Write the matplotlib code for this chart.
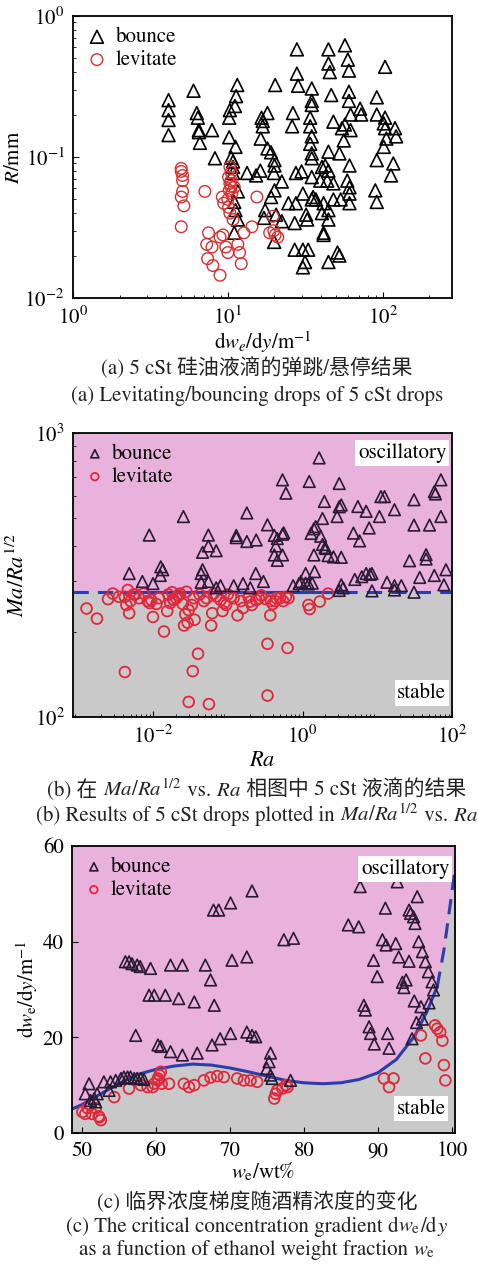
import matplotlib
matplotlib.use("Agg")
import matplotlib.pyplot as plt
from matplotlib.ticker import LogLocator, NullFormatter
from matplotlib.offsetbox import TextArea, HPacker, AnchoredOffsetbox
import numpy as np

plt.rcParams['font.family'] = ['STIXGeneral', 'Noto Sans CJK SC']
plt.rcParams['mathtext.fontset'] = 'stix'

# ---- (a) 5 cSt drops: R vs dwe/dy ----
a_bounce_x = [4.14, 4.14, 4.14, 4.14, 6.0, 6.3, 6.4, 6.5, 6.5, 6.6, 7.9, 8.25,
              11.5, 11.3, 11.1, 10.3, 10.2, 10.2, 11.2, 10.5, 10.8, 10.8, 10.8, 11.6,
              11.0, 11.2, 11.6, 11.0, 13.3, 15.2, 16.2, 20.2, 16.5, 16.8, 18.0, 16.8,
              16.3, 18.0, 19.0, 20.0, 20.0, 19.8, 22.3, 20.0, 19.0, 17.4, 17.1, 20.5,
              22.3, 19.9, 26.3, 26.0, 27.9, 27.9, 28.4, 27.5, 29.9, 30.5, 24.6, 27.5,
              27.0, 27.0, 30.5, 33.0, 31.5, 30.5, 32.0, 32.5, 34.8, 34.8, 34.8, 34.0,
              34.0, 34.8, 34.0, 34.8, 34.8, 34.8, 35.5, 34.8, 37.0, 44.6, 44.6, 45.5,
              46.5, 43.8, 40.5, 39.5, 41.5, 40.5, 41.5, 41.5, 44.6, 51.0, 52.5, 48.0,
              44.6, 42.5, 44.6, 48.0, 48.0, 44.6, 44.6, 52.5, 57.0, 59.5, 60.5, 60.5,
              60.5, 57.0, 54.5, 62.0, 61.0, 59.0, 61.0, 61.0, 61.0, 56.0, 53.5, 71.4,
              72.5, 62.0, 91.5, 91.5, 91.5, 89.5, 91.5, 103.5, 103.5, 101.5, 103.5, 105.5,
              101.5, 120.0, 122.0, 117.0, 113.0]
a_bounce_y = [0.253, 0.215, 0.183, 0.143, 0.295, 0.205, 0.19, 0.155, 0.15, 0.126, 0.155, 0.098,
              0.324, 0.27, 0.23, 0.215, 0.19, 0.138, 0.118, 0.099, 0.093, 0.085, 0.077, 0.057,
              0.048, 0.042, 0.036, 0.029, 0.077, 0.074, 0.08, 0.324, 0.19, 0.18, 0.205, 0.165,
              0.135, 0.115, 0.108, 0.095, 0.087, 0.077, 0.067, 0.058, 0.052, 0.042, 0.037, 0.039,
              0.035, 0.025, 0.205, 0.165, 0.58, 0.39, 0.32, 0.077, 0.079, 0.055, 0.047, 0.047,
              0.034, 0.022, 0.022, 0.022, 0.018, 0.0165, 0.039, 0.036, 0.306, 0.25, 0.234, 0.19,
              0.165, 0.14, 0.124, 0.106, 0.098, 0.072, 0.052, 0.05, 0.05, 0.58, 0.46, 0.40,
              0.275, 0.068, 0.085, 0.068, 0.047, 0.040, 0.029, 0.028, 0.018, 0.021, 0.020, 0.178,
              0.109, 0.087, 0.08, 0.065, 0.050, 0.042, 0.036, 0.106, 0.62, 0.49, 0.41, 0.29,
              0.25, 0.17, 0.16, 0.155, 0.087, 0.068, 0.061, 0.055, 0.047, 0.131, 0.05, 0.22,
              0.2, 0.2, 0.265, 0.2, 0.095, 0.058, 0.048, 0.436, 0.19, 0.173, 0.16, 0.135,
              0.118, 0.16, 0.14, 0.09, 0.074]
a_lev_x = [5.0, 5.0, 5.1, 5.1, 5.1, 5.0, 5.2, 5.0, 7.1, 7.5, 7.3, 7.4, 7.9, 8.0, 8.9,
           8.9, 9.3, 9.2, 9.4, 9.7, 10.0, 10.3, 10.1, 10.3, 10.2, 10.0, 10.1, 10.3, 10.8,
           11.6, 11.9, 12.2, 12.7, 14.3, 15.4, 18.6, 19.8, 20.2, 21.0, 19.5, 10.5, 11.0,
           10.5, 10.4, 10.6]
a_lev_y = [0.083, 0.079, 0.074, 0.068, 0.057, 0.052, 0.045, 0.032, 0.057, 0.029, 0.024,
           0.019, 0.023, 0.017, 0.0145, 0.027, 0.028, 0.052, 0.047, 0.023, 0.021, 0.085,
           0.072, 0.065, 0.058, 0.050, 0.044, 0.040, 0.036, 0.024, 0.021, 0.0175, 0.029,
           0.032, 0.052, 0.029, 0.030, 0.028, 0.027, 0.038, 0.068, 0.061, 0.078, 0.062, 0.055]

# ---- (b) Ma/Ra^0.5 vs Ra ----
b_bounce_ra = [0.0048, 0.0072, 0.0089, 0.0127, 0.0135, 0.0255, 0.010, 0.0125, 0.044, 0.046,
               0.055, 0.055, 0.046, 0.07, 0.055, 0.044, 0.18, 0.13, 0.13, 0.18, 0.24, 0.237,
               0.34, 0.54, 0.60, 0.42, 0.46, 0.54, 0.56, 0.44, 0.42, 0.46, 0.54, 1.23, 1.67,
               1.50, 1.42, 1.30, 1.75, 1.85, 2.0, 2.05, 1.42, 2.2, 1.1, 1.45, 1.1, 1.35, 1.2,
               0.95, 1.96, 1.85, 3.1, 3.3, 3.1, 2.9, 2.6, 3.3, 3.3, 3.1, 3.5, 5.5, 7.1, 4.8,
               5.8, 7.8, 11.2, 12.5, 10.7, 17.0, 31.0, 31.0, 50.0, 71.0, 58.0, 60.0, 71.0, 83.0,
               78.0, 45.0, 45.0, 27.0, 37.0, 58.0, 21.0, 17.0, 13.5, 8.5, 6.2, 7.1, 8.0, 5.0,
               31.0, 17.0, 8.5, 0.07, 0.08, 0.16, 0.2, 0.3, 0.12, 0.75, 0.9]
b_bounce_v = [320, 300, 437, 338, 330, 508, 295, 315, 320, 330, 437, 400, 380, 385, 300, 298,
              523, 436, 428, 415, 420, 320, 475, 684, 614, 436, 425, 440, 445, 400, 372, 356,
              372, 675, 817, 468, 460, 443, 433, 405, 395, 392, 372, 370, 320, 325, 296, 296,
              294, 300, 574, 500, 664, 558, 550, 508, 366, 365, 292, 279, 285, 551, 530, 444,
              417, 463, 597, 597, 508, 537, 582, 474, 474, 684, 622, 610, 508, 330, 292, 373,
              360, 355, 310, 315, 290, 290, 298, 320, 312, 320, 318, 305, 275, 280, 278, 285,
              290, 295, 285, 300, 290, 290, 295]
b_lev_ra = [0.00129, 0.00178, 0.0025, 0.0029, 0.0042, 0.0044, 0.0048, 0.0042, 0.0046, 0.0050,
            0.0055, 0.010, 0.0095, 0.0111, 0.014, 0.0155, 0.0185, 0.0205, 0.025, 0.027, 0.029,
            0.030, 0.026, 0.040, 0.034, 0.030, 0.056, 0.060, 0.062, 0.036, 0.085, 0.135, 0.095,
            0.34, 0.63, 0.34, 0.37, 0.43, 0.50, 0.21, 0.16, 1.25, 1.7, 2.2, 1.2, 0.0065, 0.0075,
            0.0085, 0.012, 0.016, 0.019, 0.022, 0.035, 0.042, 0.048, 0.07, 0.08, 0.1, 0.12,
            0.15, 0.19, 0.24, 0.28, 0.32, 0.38, 0.45, 0.55, 0.65, 0.0035, 0.0058, 0.009, 0.017,
            0.023, 0.033, 0.052, 0.065, 0.09, 0.11, 0.2, 0.26, 0.4, 0.6, 0.028, 0.018]
b_lev_v = [241, 222, 260, 272, 144, 248, 232, 265, 280, 256, 270, 225, 258, 250, 200, 236,
           260, 262, 250, 230, 215, 238, 210, 167, 145, 113, 111, 210, 232, 220, 236, 228, 248,
           181, 175, 119, 228, 256, 262, 248, 242, 240, 255, 272, 248, 262, 272, 256, 262, 270,
           258, 268, 262, 270, 256, 266, 258, 270, 262, 256, 264, 258, 268, 260, 256, 262, 256,
           262, 265, 270, 252, 252, 272, 248, 262, 272, 252, 265, 255, 262, 250, 265, 276, 275]

ra_crit = 275

# ---- (c) critical gradient vs ethanol fraction ----
c_bounce_w = [50.5, 51.0, 51.2, 51.7, 51.9, 52.1, 53.0, 53.7, 53.9, 54.6, 55.3, 55.7, 56.2,
              56.6, 57.1, 57.5, 58.0, 58.4, 55.9, 56.4, 56.8, 57.5, 57.9, 59.3, 57.3, 59.1,
              59.8, 61.3, 63.1, 65.2, 62.0, 63.6, 60.3, 60.7, 62.0, 63.6, 65.6, 66.7, 67.4,
              67.9, 67.6, 68.7, 70.1, 67.8, 68.5, 70.1, 73.0, 70.3, 72.3, 72.3, 73.0, 73.5,
              75.5, 75.3, 75.0, 75.5, 75.7, 77.3, 78.6, 78.2, 86.0, 87.4, 87.6, 88.1, 88.3,
              88.8, 89.0, 89.5, 91.3, 91.5, 89.4, 89.9, 90.6, 91.1, 91.0, 92.6, 92.4, 92.8,
              93.3, 93.5, 94.2, 93.8, 95.3, 94.2, 94.4, 94.8, 95.0, 95.5, 96.0, 96.4, 96.8,
              97.3, 97.5, 94.9, 95.2, 95.8, 96.0, 96.9, 94.6]
c_bounce_y = [8.2, 10.3, 6.8, 7.2, 6.5, 8.2, 10.7, 8.9, 10.7, 11.0, 11.4, 11.7, 11.7, 11.7,
              11.4, 11.4, 11.4, 11.2, 35.8, 35.8, 35.4, 35.1, 34.8, 34.4, 20.4, 28.8, 28.8,
              28.8, 28.1, 27.4, 35.1, 35.1, 18.4, 18.1, 17.0, 16.3, 16.7, 35.1, 32.0, 26.7,
              18.4, 19.7, 20.8, 46.6, 46.6, 48.1, 50.6, 36.1, 36.8, 21.1, 20.4, 20.1, 16.7,
              14.9, 13.5, 12.1, 11.4, 40.4, 40.7, 11.0, 43.5, 43.1, 51.5, 26.7, 25.7, 22.2,
              20.8, 18.6, 20.8, 17.7, 36.1, 32.7, 40.4, 39.3, 47.0, 52.5, 39.6, 36.8, 31.5,
              30.4, 35.9, 32.0, 49.4, 46.6, 45.9, 45.2, 43.8, 40.0, 37.9, 35.8, 33.7, 31.6,
              29.9, 27.6, 23.1, 26.4, 23.8, 27.2, 19.7]
c_lev_w = [50.1, 50.5, 50.8, 51.4, 51.9, 52.3, 52.6, 52.4, 54.4, 56.4, 58.0, 58.9, 59.6,
           59.8, 60.3, 60.7, 60.5, 60.3, 60.8, 61.8, 63.8, 64.5, 65.2, 66.5, 67.4, 68.3, 69.2,
           71.0, 71.9, 72.8, 73.7, 76.0, 76.2, 76.4, 77.1, 77.6, 77.8, 90.8, 91.5, 92.1, 95.8,
           96.4, 97.7, 98.0, 98.4, 98.7, 98.9, 99.1]
c_lev_y = [4.4, 4.0, 5.2, 4.0, 5.2, 3.5, 2.7, 3.3, 7.5, 9.3, 10.0, 9.6, 9.6, 10.3, 11.0, 12.8,
           12.1, 11.4, 10.3, 10.3, 10.3, 9.6, 10.0, 11.0, 11.6, 11.9, 11.7, 11.4, 11.0, 11.0,
           10.7, 7.2, 8.2, 8.9, 9.3, 10.0, 9.6, 11.4, 9.6, 11.4, 20.4, 15.6, 22.5, 21.8, 21.1,
           19.3, 14.2, 11.0]

# fit line: solid part, then dashed extrapolation
fit_w = [48.7, 50.0, 52.6, 55.0, 57.5, 60.0, 62.5, 65.0, 67.5, 70.0, 72.5, 75.0, 77.5,
         80.0, 82.5, 85.0, 87.5, 90.0, 92.5, 95.0, 96.7, 98.0]
fit_y = [5.0, 5.9, 8.2, 10.3, 12.2, 13.3, 14.0, 14.4, 14.2, 13.6, 12.8, 11.9, 11.0, 10.5,
         10.3, 10.5, 11.2, 12.6, 15.4, 20.4, 25.7, 30.6]
ext_w = [98.0, 98.9, 99.6, 100.3]
ext_y = [30.6, 38.2, 46.0, 54.0]

PINK = '#e8b2dc'
GRAY = '#c9c9c9'
BLUE = '#2a40a8'
TRI = '#2a1a35'
RED = '#e0283c'
CJK = ['STIXGeneral', 'Noto Sans CJK SC']
FS = 15

fig = plt.figure(figsize=(4.78, 12.66), dpi=100)
W, H = 478, 1266


def add_ax(l, r, t, b):
    return fig.add_axes([l / W, 1 - b / H, (r - l) / W, (b - t) / H])


def style(ax):
    ax.tick_params(which='both', direction='in', labelsize=FS, top=False, right=False)
    ax.tick_params(which='major', length=4, pad=6)
    ax.tick_params(which='minor', length=2)
    for s in ax.spines.values():
        s.set_linewidth(1.3)


def caption(y, parts):
    # mixed CJK / mathtext line built from pieces
    boxes = [TextArea(s, textprops=dict(fontsize=FS, family=CJK, color='#222222'))
             for s in parts]
    pack = HPacker(children=boxes, align='baseline', pad=0, sep=0)
    ab = AnchoredOffsetbox(loc='center', child=pack, frameon=False, pad=0, borderpad=0,
                           bbox_to_anchor=(257 / W, 1 - y / H),
                           bbox_transform=fig.transFigure)
    fig.add_artist(ab)


leg_kw = dict(loc='upper left', frameon=False, fontsize=FS, handletextpad=0.3,
              borderaxespad=0.15, labelspacing=0.15)

# (a)
ax1 = add_ax(73, 452, 16, 298)
ax1.scatter(a_bounce_x, a_bounce_y, marker='^', s=85, facecolors='none',
            edgecolors='black', linewidths=1.2, label='bounce')
ax1.scatter(a_lev_x, a_lev_y, marker='o', s=70, facecolors='none',
            edgecolors='#d83030', linewidths=1.0, label='levitate')
ax1.set_xscale('log')
ax1.set_yscale('log')
ax1.set_xlim(1, 280)
ax1.set_ylim(0.01, 1)
style(ax1)
ax1.set_ylabel('$R$/mm', fontsize=FS, labelpad=0)
ax1.set_xlabel(r'd$w_e$/d$y$/m$^{-1}$', fontsize=FS, labelpad=0)
ax1.legend(handlelength=1.2, **leg_kw)

# (b)
ax2 = add_ax(73, 452, 433, 717)
ax2.set_xscale('log')
ax2.set_yscale('log')
ax2.set_xlim(8.5e-4, 100)
ax2.set_ylim(100, 1000)
ax2.axhspan(ra_crit, 1000, color=PINK, zorder=0)
ax2.axhspan(100, ra_crit, color=GRAY, zorder=0)
ax2.plot([8.5e-4, 100], [ra_crit, ra_crit], '--', color=BLUE, lw=2.2, dashes=(5, 3), zorder=1)
ax2.plot([0.005, 3.5], [ra_crit, ra_crit], '-', color=BLUE, lw=2.2, zorder=1)
ax2.scatter(b_lev_ra, b_lev_v, marker='o', s=60, facecolors='none',
            edgecolors=RED, linewidths=1.3, label='levitate', zorder=2)
ax2.scatter(b_bounce_ra, b_bounce_v, marker='^', s=70, facecolors='none',
            edgecolors=TRI, linewidths=1.2, label='bounce', zorder=3)
style(ax2)
ax2.set_xticks([1e-2, 1, 1e2])
ax2.xaxis.set_minor_locator(LogLocator(base=10, subs=np.arange(2, 10), numticks=20))
ax2.xaxis.set_minor_formatter(NullFormatter())
ax2.set_yticks([100, 1000])
ax2.yaxis.set_minor_locator(LogLocator(base=10, subs=np.arange(2, 10), numticks=20))
ax2.yaxis.set_minor_formatter(NullFormatter())
ax2.set_ylabel('$Ma/Ra^{1/2}$', fontsize=FS + 1, labelpad=4)
ax2.set_xlabel('$Ra$', fontsize=FS + 1, labelpad=3)
h, l = ax2.get_legend_handles_labels()
ax2.legend(h[::-1], l[::-1], handlelength=1.0, markerscale=0.7, **leg_kw)
ax2.text(0.985, 0.965, 'oscillatory', transform=ax2.transAxes, ha='right', va='top',
         fontsize=FS, bbox=dict(facecolor='white', edgecolor='none', pad=2))
ax2.text(0.985, 0.05, 'stable', transform=ax2.transAxes, ha='right', va='bottom',
         fontsize=FS, bbox=dict(facecolor='white', edgecolor='none', pad=2))

# (c)
ax3 = add_ax(72, 455, 846, 1133)
ax3.set_xlim(48.7, 100.4)
ax3.set_ylim(0, 60)
ax3.set_facecolor(PINK)
fill_w = fit_w + ext_w[1:] + [100.4]
fill_y = fit_y + ext_y[1:] + [60.0]
ax3.fill_between(fill_w, 0, fill_y, color=GRAY, zorder=0, lw=0)
ax3.plot(fit_w, fit_y, '-', color=BLUE, lw=2.2, zorder=1)
ax3.plot(ext_w, ext_y, '--', color=BLUE, lw=2.2, dashes=(5, 3), zorder=1)
ax3.scatter(c_lev_w, c_lev_y, marker='o', s=60, facecolors='none',
            edgecolors=RED, linewidths=1.3, label='levitate', zorder=2)
ax3.scatter(c_bounce_w, c_bounce_y, marker='^', s=70, facecolors='none',
            edgecolors=TRI, linewidths=1.2, label='bounce', zorder=3)
style(ax3)
ax3.set_xticks([50, 60, 70, 80, 90, 100])
ax3.set_yticks([0, 20, 40, 60])
ax3.set_ylabel(r'd$w_{\rm e}$/d$y$/m$^{-1}$', fontsize=FS, labelpad=2)
ax3.set_xlabel(r'$w_{\rm e}$/wt%', fontsize=FS, labelpad=0)
h, l = ax3.get_legend_handles_labels()
ax3.legend(h[::-1], l[::-1], handlelength=1.0, markerscale=0.7, **leg_kw)
ax3.text(0.985, 0.955, 'oscillatory', transform=ax3.transAxes, ha='right', va='top',
         fontsize=FS, bbox=dict(facecolor='white', edgecolor='none', pad=2))
ax3.text(0.975, 0.05, 'stable', transform=ax3.transAxes, ha='right', va='bottom',
         fontsize=FS, bbox=dict(facecolor='white', edgecolor='none', pad=2))

# captions
caption(368, ['(a) 5 cSt 硅油液滴的弹跳/悬停结果'])
caption(396, ['(a) Levitating/bouncing drops of 5 cSt drops'])
caption(790, ['(b) 在 ', '$Ma/Ra^{1/2}$', ' vs. ', '$Ra$', ' 相图中 5 cSt 液滴的结果'])
caption(815, ['(b) Results of 5 cSt drops plotted in ', '$Ma/Ra^{1/2}$', ' vs. ', '$Ra$'])
caption(1202, ['(c) 临界浓度梯度随酒精浓度的变化'])
caption(1227, ['(c) The critical concentration gradient d', '$w_{\\rm e}$', '/d', '$y$'])
caption(1250, ['as a function of ethanol weight fraction ', '$w_{\\rm e}$'])

fig.savefig('out.png', dpi=100, facecolor='white')
